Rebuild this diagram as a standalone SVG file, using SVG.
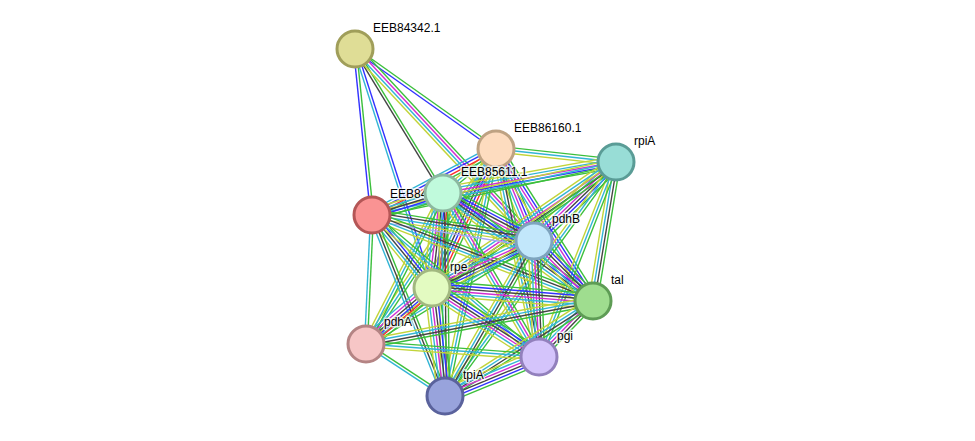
<svg xmlns="http://www.w3.org/2000/svg" xmlns:xlink="http://www.w3.org/1999/xlink" width="975" height="441" viewBox="0 0 975 441">
<style>
.g{stroke:#3cbf3c}.r{stroke:#ff2a2a}.b{stroke:#3232ff}.k{stroke:#444444}.m{stroke:#d22ed2}.c{stroke:#33b5d5}.y{stroke:#c2d43a}.h{stroke:#a8a8f0}
#connectors use{stroke-width:1.4;fill:none}
.node circle{stroke-width:3}
text{font-family:"Liberation Sans",Arial,sans-serif;font-size:12px;fill:#000;stroke:#fff;stroke-width:3;stroke-opacity:0.75;paint-order:stroke;stroke-linejoin:round}
</style>
<defs>
<line id="eAB" x1="355" y1="49" x2="496" y2="149"/>
<line id="eAD" x1="355" y1="49" x2="443" y2="193"/>
<line id="eAE" x1="355" y1="49" x2="372" y2="215"/>
<line id="eAF" x1="355" y1="49" x2="534" y2="241"/>
<line id="eAG" x1="355" y1="49" x2="432" y2="288"/>
<line id="eBC" x1="496" y1="149" x2="616" y2="162"/>
<line id="eBD" x1="496" y1="149" x2="443" y2="193"/>
<line id="eBE" x1="496" y1="149" x2="372" y2="215"/>
<line id="eBF" x1="496" y1="149" x2="534" y2="241"/>
<line id="eBG" x1="496" y1="149" x2="432" y2="288"/>
<line id="eBH" x1="496" y1="149" x2="593" y2="301"/>
<line id="eBI" x1="496" y1="149" x2="366" y2="344"/>
<line id="eBJ" x1="496" y1="149" x2="539" y2="357"/>
<line id="eBK" x1="496" y1="149" x2="445" y2="396"/>
<line id="eCD" x1="616" y1="162" x2="443" y2="193"/>
<line id="eCE" x1="616" y1="162" x2="372" y2="215"/>
<line id="eCF" x1="616" y1="162" x2="534" y2="241"/>
<line id="eCG" x1="616" y1="162" x2="432" y2="288"/>
<line id="eCH" x1="616" y1="162" x2="593" y2="301"/>
<line id="eCI" x1="616" y1="162" x2="366" y2="344"/>
<line id="eCJ" x1="616" y1="162" x2="539" y2="357"/>
<line id="eCK" x1="616" y1="162" x2="445" y2="396"/>
<line id="eDE" x1="443" y1="193" x2="372" y2="215"/>
<line id="eDF" x1="443" y1="193" x2="534" y2="241"/>
<line id="eDG" x1="443" y1="193" x2="432" y2="288"/>
<line id="eDH" x1="443" y1="193" x2="593" y2="301"/>
<line id="eDI" x1="443" y1="193" x2="366" y2="344"/>
<line id="eDJ" x1="443" y1="193" x2="539" y2="357"/>
<line id="eDK" x1="443" y1="193" x2="445" y2="396"/>
<line id="eEF" x1="372" y1="215" x2="534" y2="241"/>
<line id="eEG" x1="372" y1="215" x2="432" y2="288"/>
<line id="eEH" x1="372" y1="215" x2="593" y2="301"/>
<line id="eEI" x1="372" y1="215" x2="366" y2="344"/>
<line id="eEJ" x1="372" y1="215" x2="539" y2="357"/>
<line id="eEK" x1="372" y1="215" x2="445" y2="396"/>
<line id="eFG" x1="534" y1="241" x2="432" y2="288"/>
<line id="eFH" x1="534" y1="241" x2="593" y2="301"/>
<line id="eFI" x1="534" y1="241" x2="366" y2="344"/>
<line id="eFJ" x1="534" y1="241" x2="539" y2="357"/>
<line id="eFK" x1="534" y1="241" x2="445" y2="396"/>
<line id="eGH" x1="432" y1="288" x2="593" y2="301"/>
<line id="eGI" x1="432" y1="288" x2="366" y2="344"/>
<line id="eGJ" x1="432" y1="288" x2="539" y2="357"/>
<line id="eGK" x1="432" y1="288" x2="445" y2="396"/>
<line id="eHI" x1="593" y1="301" x2="366" y2="344"/>
<line id="eHJ" x1="593" y1="301" x2="539" y2="357"/>
<line id="eHK" x1="593" y1="301" x2="445" y2="396"/>
<line id="eIJ" x1="366" y1="344" x2="539" y2="357"/>
<line id="eIK" x1="366" y1="344" x2="445" y2="396"/>
<line id="eJK" x1="539" y1="357" x2="445" y2="396"/>
</defs>
<rect width="975" height="441" fill="#ffffff"/>
<g id="connectors">
<use href="#eAB" class="g" x="0.84" y="-1.2"/><use href="#eAB" class="b" x="-0.84" y="1.2"/>
<use href="#eAD" class="g" x="1.2" y="-0.72"/><use href="#eAD" class="k" x="-1.2" y="0.72"/>
<use href="#eAE" class="g" x="1.44" y="-0.12"/><use href="#eAE" class="b" x="-1.44" y="0.12"/>
<use href="#eAF" class="g" x="3.12" y="-3"/><use href="#eAF" class="m" x="1.08" y="-0.96"/><use href="#eAF" class="c" x="-1.08" y="0.96"/><use href="#eAF" class="y" x="-3.12" y="3"/>
<use href="#eAG" class="b" x="1.32" y="-0.48"/><use href="#eAG" class="c" x="-1.32" y="0.48"/>
<use href="#eBC" class="g" x="0.36" y="-2.88"/><use href="#eBC" class="c"/><use href="#eBC" class="y" x="-0.36" y="2.88"/>
<use href="#eBD" class="g" x="1.8" y="2.28"/><use href="#eBD" class="c"/><use href="#eBD" class="y" x="-1.8" y="-2.28"/>
<use href="#eBE" class="g" x="2.04" y="3.84"/><use href="#eBE" class="r" x="0.72" y="1.32"/><use href="#eBE" class="b" x="-0.72" y="-1.32"/><use href="#eBE" class="c" x="-2.04" y="-3.84"/>
<use href="#eBF" class="g" x="5.28" y="-2.16"/><use href="#eBF" class="b" x="2.64" y="-1.08"/><use href="#eBF" class="m"/><use href="#eBF" class="c" x="-2.64" y="1.08"/><use href="#eBF" class="y" x="-5.28" y="2.16"/>
<use href="#eBG" class="g" x="6.6" y="3"/><use href="#eBG" class="r" x="3.96" y="1.8"/><use href="#eBG" class="b" x="1.32" y="0.6"/><use href="#eBG" class="k" x="-1.32" y="-0.6"/><use href="#eBG" class="c" x="-3.96" y="-1.8"/><use href="#eBG" class="y" x="-6.6" y="-3"/>
<use href="#eBH" class="g" x="4.8" y="-3.12"/><use href="#eBH" class="b" x="2.4" y="-1.56"/><use href="#eBH" class="m"/><use href="#eBH" class="c" x="-2.4" y="1.56"/><use href="#eBH" class="y" x="-4.8" y="3.12"/>
<use href="#eBI" class="g" x="2.4" y="1.56"/><use href="#eBI" class="c"/><use href="#eBI" class="y" x="-2.4" y="-1.56"/>
<use href="#eBJ" class="g" x="4.2" y="-0.84"/><use href="#eBJ" class="k" x="1.44" y="-0.24"/><use href="#eBJ" class="c" x="-1.44" y="0.24"/><use href="#eBJ" class="y" x="-4.2" y="0.84"/>
<use href="#eBK" class="g" x="2.88" y="0.6"/><use href="#eBK" class="c"/><use href="#eBK" class="y" x="-2.88" y="-0.6"/>
<use href="#eCD" class="g" x="0.96" y="5.64"/><use href="#eCD" class="b" x="0.48" y="2.88"/><use href="#eCD" class="m"/><use href="#eCD" class="c" x="-0.48" y="-2.88"/><use href="#eCD" class="y" x="-0.96" y="-5.64"/>
<use href="#eCE" class="g" x="0.6" y="2.88"/><use href="#eCE" class="c"/><use href="#eCE" class="y" x="-0.6" y="-2.88"/>
<use href="#eCF" class="g" x="5.04" y="5.16"/><use href="#eCF" class="b" x="3" y="3.12"/><use href="#eCF" class="k" x="0.96" y="1.08"/><use href="#eCF" class="m" x="-0.96" y="-1.08"/><use href="#eCF" class="c" x="-3" y="-3.12"/><use href="#eCF" class="y" x="-5.04" y="-5.16"/>
<use href="#eCG" class="g" x="3.24" y="4.8"/><use href="#eCG" class="k" x="1.68" y="2.4"/><use href="#eCG" class="m"/><use href="#eCG" class="c" x="-1.68" y="-2.4"/><use href="#eCG" class="y" x="-3.24" y="-4.8"/>
<use href="#eCH" class="g" x="4.32" y="0.72"/><use href="#eCH" class="k" x="1.44" y="0.24"/><use href="#eCH" class="c" x="-1.44" y="-0.24"/><use href="#eCH" class="y" x="-4.32" y="-0.72"/>
<use href="#eCI" class="g" x="0.84" y="1.2"/><use href="#eCI" class="y" x="-0.84" y="-1.2"/>
<use href="#eCJ" class="g" x="2.64" y="1.08"/><use href="#eCJ" class="c"/><use href="#eCJ" class="y" x="-2.64" y="-1.08"/>
<use href="#eCK" class="g" x="2.28" y="1.68"/><use href="#eCK" class="c"/><use href="#eCK" class="y" x="-2.28" y="-1.68"/>
<use href="#eDE" class="g" x="1.68" y="5.52"/><use href="#eDE" class="b" x="0.84" y="2.76"/><use href="#eDE" class="k"/><use href="#eDE" class="c" x="-0.84" y="-2.76"/><use href="#eDE" class="y" x="-1.68" y="-5.52"/>
<use href="#eDF" class="g" x="3.36" y="-6.36"/><use href="#eDF" class="b" x="2.04" y="-3.84"/><use href="#eDF" class="k" x="0.72" y="-1.32"/><use href="#eDF" class="m" x="-0.72" y="1.32"/><use href="#eDF" class="c" x="-2.04" y="3.84"/><use href="#eDF" class="y" x="-3.36" y="6.36"/>
<use href="#eDG" class="g" x="8.64" y="0.96"/><use href="#eDG" class="r" x="5.76" y="0.72"/><use href="#eDG" class="b" x="2.88" y="0.36"/><use href="#eDG" class="k"/><use href="#eDG" class="m" x="-2.88" y="-0.36"/><use href="#eDG" class="c" x="-5.76" y="-0.72"/><use href="#eDG" class="y" x="-8.64" y="-0.96"/>
<use href="#eDH" class="g" x="3.36" y="-4.68"/><use href="#eDH" class="b" x="1.68" y="-2.4"/><use href="#eDH" class="k"/><use href="#eDH" class="c" x="-1.68" y="2.4"/><use href="#eDH" class="y" x="-3.36" y="4.68"/>
<use href="#eDI" class="g" x="2.52" y="1.32"/><use href="#eDI" class="c"/><use href="#eDI" class="y" x="-2.52" y="-1.32"/>
<use href="#eDJ" class="g" x="3.72" y="-2.16"/><use href="#eDJ" class="m" x="1.2" y="-0.72"/><use href="#eDJ" class="c" x="-1.2" y="0.72"/><use href="#eDJ" class="y" x="-3.72" y="2.16"/>
<use href="#eDK" class="g" x="4.32"/><use href="#eDK" class="k" x="1.44"/><use href="#eDK" class="c" x="-1.44"/><use href="#eDK" class="y" x="-4.32"/>
<use href="#eEF" class="g" x="0.96" y="-5.64"/><use href="#eEF" class="k" x="0.48" y="-2.88"/><use href="#eEF" class="c"/><use href="#eEF" class="y" x="-0.48" y="2.88"/><use href="#eEF" class="h" x="-0.96" y="5.64"/>
<use href="#eEG" class="g" x="4.44" y="-3.6"/><use href="#eEG" class="b" x="2.28" y="-1.8"/><use href="#eEG" class="k"/><use href="#eEG" class="c" x="-2.28" y="1.8"/><use href="#eEG" class="y" x="-4.44" y="3.6"/>
<use href="#eEH" class="g" x="1.56" y="-4.08"/><use href="#eEH" class="k" x="0.48" y="-1.32"/><use href="#eEH" class="c" x="-0.48" y="1.32"/><use href="#eEH" class="y" x="-1.56" y="4.08"/>
<use href="#eEI" class="g" x="1.44" y="0.12"/><use href="#eEI" class="c" x="-1.44" y="-0.12"/>
<use href="#eEJ" class="g" x="1.92" y="-2.16"/><use href="#eEJ" class="c"/><use href="#eEJ" class="y" x="-1.92" y="2.16"/>
<use href="#eEK" class="g" x="2.64" y="-1.08"/><use href="#eEK" class="k"/><use href="#eEK" class="c" x="-2.64" y="1.08"/>
<use href="#eFG" class="g" x="3" y="6.6"/><use href="#eFG" class="b" x="1.8" y="3.96"/><use href="#eFG" class="k" x="0.6" y="1.32"/><use href="#eFG" class="m" x="-0.6" y="-1.32"/><use href="#eFG" class="c" x="-1.8" y="-3.96"/><use href="#eFG" class="y" x="-3" y="-6.6"/>
<use href="#eFH" class="g" x="5.16" y="-5.04"/><use href="#eFH" class="b" x="3.12" y="-3"/><use href="#eFH" class="k" x="1.08" y="-0.96"/><use href="#eFH" class="m" x="-1.08" y="0.96"/><use href="#eFH" class="c" x="-3.12" y="3"/><use href="#eFH" class="y" x="-5.16" y="5.04"/>
<use href="#eFI" class="g" x="1.56" y="2.52"/><use href="#eFI" class="c"/><use href="#eFI" class="y" x="-1.56" y="-2.52"/>
<use href="#eFJ" class="g" x="5.76" y="-0.24"/><use href="#eFJ" class="k" x="2.88" y="-0.12"/><use href="#eFJ" class="m"/><use href="#eFJ" class="c" x="-2.88" y="0.12"/><use href="#eFJ" class="y" x="-5.76" y="0.24"/>
<use href="#eFK" class="g" x="3.72" y="2.16"/><use href="#eFK" class="k" x="1.2" y="0.72"/><use href="#eFK" class="c" x="-1.2" y="-0.72"/><use href="#eFK" class="y" x="-3.72" y="-2.16"/>
<use href="#eGH" class="g" x="0.6" y="-7.2"/><use href="#eGH" class="b" x="0.36" y="-4.32"/><use href="#eGH" class="k" x="0.12" y="-1.44"/><use href="#eGH" class="m" x="-0.12" y="1.44"/><use href="#eGH" class="c" x="-0.36" y="4.32"/><use href="#eGH" class="y" x="-0.6" y="7.2"/>
<use href="#eGI" class="g" x="4.68" y="5.52"/><use href="#eGI" class="r" x="2.76" y="3.24"/><use href="#eGI" class="b" x="0.96" y="1.08"/><use href="#eGI" class="k" x="-0.96" y="-1.08"/><use href="#eGI" class="m" x="-2.76" y="-3.24"/><use href="#eGI" class="c" x="-4.68" y="-5.52"/>
<use href="#eGJ" class="g" x="3.96" y="-6.12"/><use href="#eGJ" class="b" x="2.4" y="-3.6"/><use href="#eGJ" class="k" x="0.84" y="-1.2"/><use href="#eGJ" class="m" x="-0.84" y="1.2"/><use href="#eGJ" class="c" x="-2.4" y="3.6"/><use href="#eGJ" class="y" x="-3.96" y="6.12"/>
<use href="#eGK" class="g" x="7.2" y="-0.84"/><use href="#eGK" class="b" x="4.32" y="-0.48"/><use href="#eGK" class="k" x="1.44" y="-0.12"/><use href="#eGK" class="m" x="-1.44" y="0.12"/><use href="#eGK" class="c" x="-4.32" y="0.48"/><use href="#eGK" class="y" x="-7.2" y="0.84"/>
<use href="#eHI" class="g" x="0.84" y="4.2"/><use href="#eHI" class="k" x="0.24" y="1.44"/><use href="#eHI" class="c" x="-0.24" y="-1.44"/><use href="#eHI" class="y" x="-0.84" y="-4.2"/>
<use href="#eHJ" class="g" x="3.12" y="3"/><use href="#eHJ" class="k" x="1.08" y="0.96"/><use href="#eHJ" class="m" x="-1.08" y="-0.96"/><use href="#eHJ" class="c" x="-3.12" y="-3"/>
<use href="#eHK" class="g" x="2.4" y="3.6"/><use href="#eHK" class="k" x="0.84" y="1.2"/><use href="#eHK" class="c" x="-0.84" y="-1.2"/><use href="#eHK" class="y" x="-2.4" y="-3.6"/>
<use href="#eIJ" class="g" x="0.24" y="-2.88"/><use href="#eIJ" class="c"/><use href="#eIJ" class="y" x="-0.24" y="2.88"/>
<use href="#eIK" class="g" x="0.84" y="-1.2"/><use href="#eIK" class="c" x="-0.84" y="1.2"/>
<use href="#eJK" class="g" x="2.76" y="6.72"/><use href="#eJK" class="b" x="1.68" y="3.96"/><use href="#eJK" class="k" x="0.6" y="1.32"/><use href="#eJK" class="m" x="-0.6" y="-1.32"/><use href="#eJK" class="c" x="-1.68" y="-3.96"/><use href="#eJK" class="y" x="-2.76" y="-6.72"/>
</g>
<g id="n-EEB84342" class="node"><circle cx="355" cy="49" r="18" fill="#dfdd96" stroke="#a09e5a"/><text x="373" y="32">EEB84342.1</text></g>
<g id="n-EEB84" class="node"><circle cx="372" cy="215" r="18" fill="#fa9393" stroke="#b45656"/><text x="390" y="198">EEB84</text></g>
<g id="n-EEB86160" class="node"><circle cx="496" cy="149" r="18" fill="#fddcbf" stroke="#bea282"/><text x="514" y="132">EEB86160.1</text></g>
<g id="n-EEB85611" class="node"><circle cx="443" cy="193" r="18" fill="#c0fadc" stroke="#8cb8a0"/><text x="461" y="176">EEB85611.1</text></g>
<g id="n-rpiA" class="node"><circle cx="616" cy="162" r="18" fill="#98ddd6" stroke="#5a9c96"/><text x="634" y="145">rpiA</text></g>
<g id="n-pdhB" class="node"><circle cx="534" cy="241" r="18" fill="#c2e7fb" stroke="#7ea4be"/><text x="552" y="223">pdhB</text></g>
<g id="n-rpe" class="node"><circle cx="432" cy="288" r="18" fill="#e3fbc1" stroke="#a2b880"/><text x="450" y="271">rpe</text></g>
<g id="n-tal" class="node"><circle cx="593" cy="301" r="18" fill="#9fdd8f" stroke="#5e9c55"/><text x="611" y="284">tal</text></g>
<g id="n-pdhA" class="node"><circle cx="366" cy="344" r="18" fill="#f6c6c6" stroke="#b48484"/><text x="384" y="326">pdhA</text></g>
<g id="n-pgi" class="node"><circle cx="539" cy="357" r="18" fill="#d4c4fb" stroke="#9280bc"/><text x="557" y="340">pgi</text></g>
<g id="n-tpiA" class="node"><circle cx="445" cy="396" r="18" fill="#98a3dc" stroke="#5a629c"/><text x="463" y="379">tpiA</text></g>
</svg>
